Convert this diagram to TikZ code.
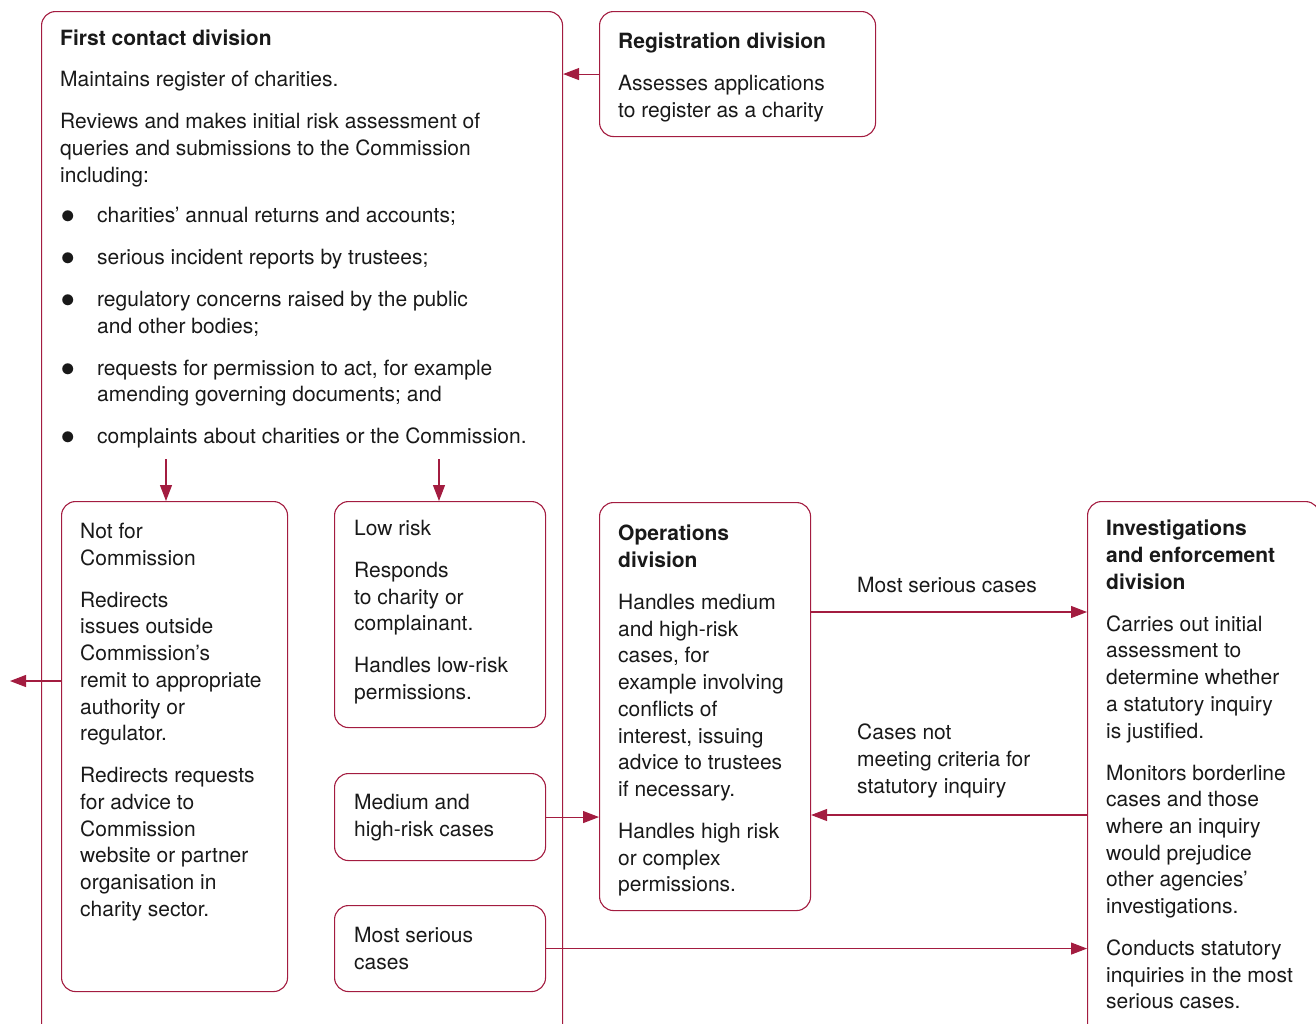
\documentclass[tikz,border=0pt]{standalone}
\usepackage{fontspec}
\setmainfont{TeX Gyre Heros}
\usetikzlibrary{arrows.meta}
\definecolor{ccred}{RGB}{163,28,64}
\newcommand{\blt}{\makebox[37pt][l]{\raisebox{-9pt}{\scalebox{2.1}{\textbullet}}}}
\newcommand{\ind}{\hspace*{37pt}}

\begin{document}
\begin{tikzpicture}[x=1pt,y=-1pt]
\tikzset{
    box/.style={draw=ccred, line width=1.1pt, rounded corners=14pt, anchor=north west, inner sep=0pt},
    txt/.style={anchor=north west, align=left, inner sep=0pt, text=black!90, font=\fontsize{21}{26.7}\selectfont,
        execute at begin node=\rule{0pt}{16pt}},
    arr/.style={draw=ccred, line width=1.1pt, -{Triangle[length=16pt,width=12pt]}}
}
\useasboundingbox (0,0) rectangle (1316,1023);

  % boxes
  \node[box, minimum width=521pt, minimum height=1040pt] (first) at (41,11) {};
  \node[box, minimum width=276pt, minimum height=125pt] (reg) at (599,11) {};
  \node[box, minimum width=226pt, minimum height=490pt] (notfor) at (61,501) {};
  \node[box, minimum width=211pt, minimum height=226pt] (low) at (334,501) {};
  \node[box, minimum width=211pt, minimum height=87pt] (med) at (334,773) {};
  \node[box, minimum width=211pt, minimum height=86pt] (serious) at (334,905) {};
  \node[box, minimum width=211pt, minimum height=408pt] (ops) at (599,502) {};
  \node[box, minimum width=232pt, minimum height=540pt] (inv) at (1087,501) {};

  % texts
  \node[txt] (firsttxt) at (60,30) {\textbf{First contact division}\\[14.3pt]
    Maintains register of charities.\\[15.3pt]
    Reviews and makes initial risk assessment of\\
    queries and submissions to the Commission\\
    including:\\[13.5pt]
    \blt charities’ annual returns and accounts;\\[15.3pt]
    \blt serious incident reports by trustees;\\[15.3pt]
    \blt regulatory concerns raised by the public\\
    \ind and other bodies;\\[15.3pt]
    \blt requests for permission to act, for example\\
    \ind amending governing documents; and\\[15.3pt]
    \blt complaints about charities or the Commission.};
  \node[txt] (regtxt) at (618,33) {\textbf{Registration division}\\[15.3pt]
    Assesses applications\\
    to register as a charity};
  \node[txt] (notfortxt) at (80,523) {Not for\\ Commission\\[15.3pt]
    Redirects\\ issues outside\\ Commission’s\\ remit to appropriate\\ authority or\\ regulator.\\[15.3pt]
    Redirects requests\\ for advice to\\ Commission\\ website or partner\\ organisation in\\ charity sector.};
  \node[txt] (lowtxt) at (354,520) {Low risk\\[15.3pt]
    Responds\\ to charity or\\ complainant.\\[15.3pt]
    Handles low-risk\\ permissions.};
  \node[txt] (medtxt) at (354,794) {Medium and\\ high-risk cases};
  \node[txt] (serioustxt) at (354,927) {Most serious\\ cases};
  \node[txt] (opstxt) at (618,525) {\textbf{Operations}\\ \textbf{division}\\[15.3pt]
    Handles medium\\ and high-risk\\ cases, for\\ example involving\\ conflicts of\\ interest, issuing\\ advice to trustees\\ if necessary.\\[15.3pt]
    Handles high risk\\ or complex\\ permissions.};
  \node[txt] (invtxt) at (1106,520) {\textbf{Investigations}\\ \textbf{and enforcement}\\ \textbf{division}\\[15.3pt]
    Carries out initial\\ assessment to\\ determine whether\\ a statutory inquiry\\ is justified.\\[15.3pt]
    Monitors borderline\\ cases and those\\ where an inquiry\\ would prejudice\\ other agencies’\\ investigations.\\[15.3pt]
    Conducts statutory\\ inquiries in the most\\ serious cases.};
  \node[txt] (upl) at (857,576) {Most serious cases};
  \node[txt] (dnl) at (857,724) {Cases not\\ meeting criteria for\\ statutory inquiry};

  % connectors
  \coordinate (redirect) at (10,681);
  \coordinate (d1) at (166,459);
  \coordinate (d2) at (439,459);
  \coordinate (up) at (0,612);
  \coordinate (dn) at (0,815);
  \draw[arr] (reg.west) -- (reg.west -| first.east);
  \draw[arr] (notfor.west |- redirect) -- (redirect);
  \draw[arr] (d1) -- (d1 |- notfor.north);
  \draw[arr] (d2) -- (d2 |- low.north);
  \draw[arr] (med.east) -- (med.east -| ops.west);
  \draw[arr] (serious.east) -- (serious.east -| inv.west);
  \draw[arr] (ops.east |- up) -- (inv.west |- up);
  \draw[arr] (inv.west |- dn) -- (ops.east |- dn);
\end{tikzpicture}
\end{document}
